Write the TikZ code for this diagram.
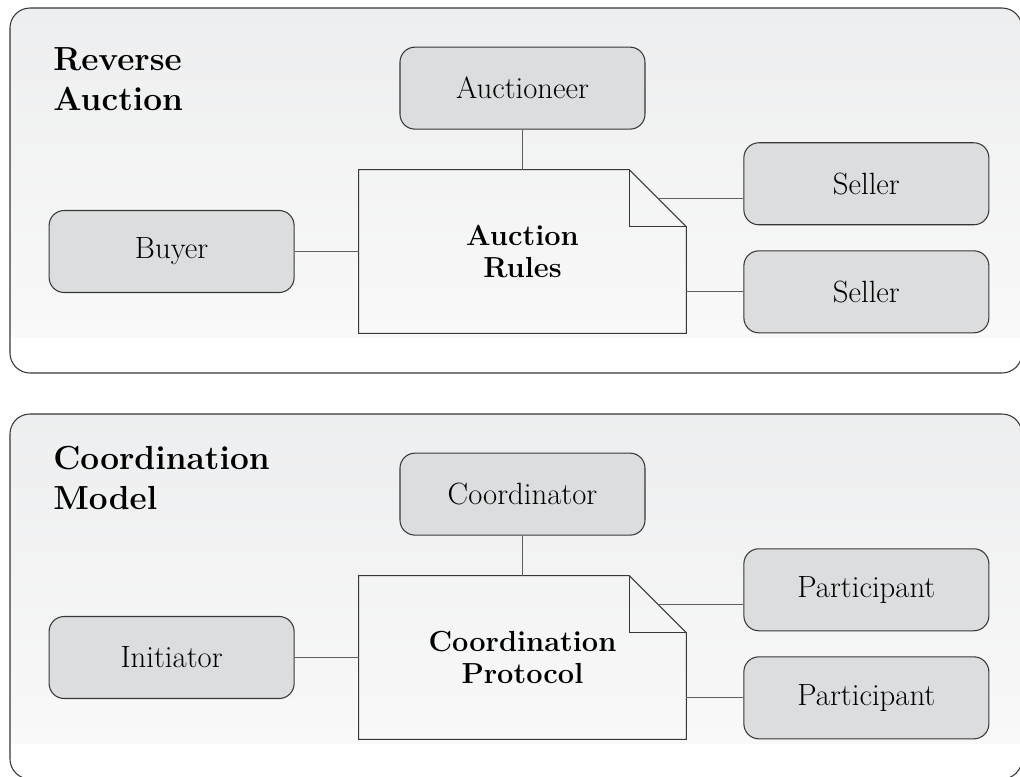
\documentclass[tikz,border=0pt]{standalone}
\usepackage{tikz}
\usetikzlibrary{positioning, calc}

\definecolor{boxgray}{RGB}{220,221,223}
\definecolor{edgegray}{RGB}{55,55,55}
\definecolor{linegray}{RGB}{95,95,95}
\definecolor{paneltop}{RGB}{237,238,239}
\definecolor{panelbot}{RGB}{249,249,249}

\tikzstyle{line} = [draw=linegray, line width=0.6pt]
\tikzstyle{outline} = [draw=edgegray, line width=0.6pt]
\tikzstyle{panel} = [draw=edgegray, line width=0.6pt, rounded corners=0.4cm]
\tikzstyle{role} = [rectangle, rounded corners=0.3cm, minimum width=4.9cm, minimum height=1.64cm, text centered, draw=edgegray, line width=0.6pt, fill=boxgray, font=\fontsize{17.5}{21}\selectfont]
\tikzstyle{doc} = [rectangle, minimum width=6.54cm, minimum height=3.26cm, align=center, font=\fontsize{16.5}{18.7}\selectfont\bfseries]
\tikzstyle{title} = [anchor=north west, inner sep=0pt, align=left, font=\fontsize{19}{22.7}\selectfont\bfseries]

\begin{document}
\begin{tikzpicture}

\useasboundingbox (0,0) rectangle (20.4,-15.52);
\fill[white] (0,0) rectangle (20.4,-15.52);

% background panels
\begin{scope}
\clip[rounded corners=0.4cm] (0.2,-0.16) rectangle (20.44,-7.46);
\shade[top color=paneltop, bottom color=panelbot] (0.2,-0.16) rectangle (20.44,-6.74);
\end{scope}
\draw[panel] (0.2,-0.16) rectangle (20.44,-7.46);

\begin{scope}
\clip[rounded corners=0.4cm] (0.2,-8.28) rectangle (20.44,-15.58);
\shade[top color=paneltop, bottom color=panelbot] (0.2,-8.28) rectangle (20.44,-14.86);
\end{scope}
\draw[panel] (0.2,-8.28) rectangle (20.44,-15.58);

% reverse auction
\node (auctiontitle) [title] at (1.06,-0.94) {Reverse\\Auction};

\node (rules) [doc] at (10.45,-5.03) {Auction\\Rules};
\node (auctioneer) [role, above=0.8cm of rules] {Auctioneer};
\node (buyer) [role, left=1.28cm of rules] {Buyer};
\node (seller2) [role, right=1.14cm of rules.south east, anchor=south west] {Seller};
\node (seller1) [role, above=0.5cm of seller2] {Seller};

\draw [outline] (rules.north west) -- ($(rules.north east)+(-1.14,0)$) coordinate (rulesA)
  -- ($(rules.north east)+(0,-1.14)$) coordinate (rulesB) -- (rules.south east) -- (rules.south west) -- cycle;
\draw [outline] (rulesA) -- (rulesA |- rulesB) -- (rulesB);
\coordinate (rulesM) at ($(rulesA)!0.5!(rulesB)$);

\draw [line] (buyer.east) -- (buyer.east -| rules.west);
\draw [line] (auctioneer.south) -- (rules.north);
\draw [line] (rulesM) -- (rulesM -| seller1.west);
\draw [line] (seller2.west) -- (seller2.west -| rules.east);

% coordination model
\node (coordtitle) [title] at (1.06,-8.92) {Coordination\\Model};

\node (protocol) [doc] at (10.45,-13.15) {Coordination\\Protocol};
\node (coordinator) [role, above=0.8cm of protocol] {Coordinator};
\node (initiator) [role, left=1.28cm of protocol] {Initiator};
\node (participant2) [role, right=1.14cm of protocol.south east, anchor=south west] {Participant};
\node (participant1) [role, above=0.5cm of participant2] {Participant};

\draw [outline] (protocol.north west) -- ($(protocol.north east)+(-1.14,0)$) coordinate (protocolA)
  -- ($(protocol.north east)+(0,-1.14)$) coordinate (protocolB) -- (protocol.south east) -- (protocol.south west) -- cycle;
\draw [outline] (protocolA) -- (protocolA |- protocolB) -- (protocolB);
\coordinate (protocolM) at ($(protocolA)!0.5!(protocolB)$);

\draw [line] (initiator.east) -- (initiator.east -| protocol.west);
\draw [line] (coordinator.south) -- (protocol.north);
\draw [line] (protocolM) -- (protocolM -| participant1.west);
\draw [line] (participant2.west) -- (participant2.west -| protocol.east);

\end{tikzpicture}
\end{document}
